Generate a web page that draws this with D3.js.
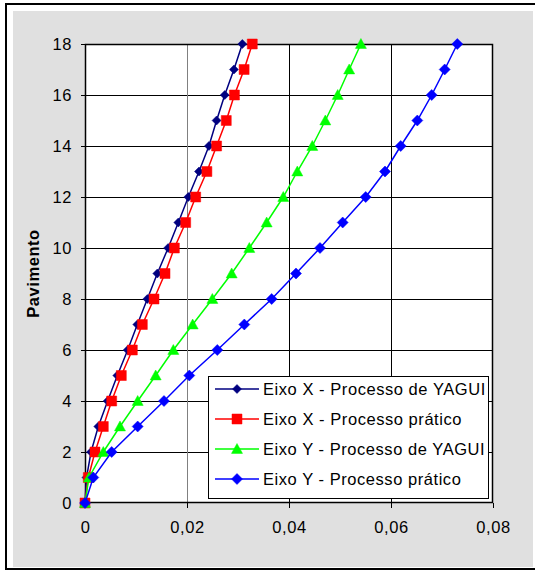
<!DOCTYPE html>
<html><head><meta charset="utf-8">
<script src="https://cdn.jsdelivr.net/npm/d3@7"></script>
<style>body{margin:0;background:#fff}svg{display:block;font-family:"Liberation Sans",Arial,sans-serif}</style>
</head><body><svg id="c" width="535" height="572"></svg>
<script>
const floors = [0,1,2,3,4,5,6,7,8,9,10,11,12,13,14,15,16,17,18];
const xYagui = [0,0.0003,0.00118,0.00261,0.00444,0.00634,0.00837,0.01026,0.01222,0.01418,0.0163,0.0183,0.02026,0.02235,0.0243,0.0258,0.0274,0.0292,0.03085];
const xPratico = [0,0.00065,0.00196,0.00359,0.00523,0.00712,0.00928,0.01124,0.01353,0.01569,0.01752,0.01974,0.0217,0.0239,0.0258,0.0277,0.0293,0.0312,0.0328];
const yYagui = [0,0.00078,0.00359,0.00686,0.01033,0.01386,0.01732,0.02111,0.02497,0.02876,0.03222,0.03562,0.03888,0.04163,0.04457,0.04712,0.04955,0.0518,0.0541];
const yPratico = [0,0.00163,0.00523,0.01033,0.01549,0.02045,0.02594,0.03124,0.0366,0.04137,0.04608,0.05053,0.05504,0.05882,0.0619,0.06516,0.06798,0.07053,0.0730];
const seriesNames = ["Eixo X - Processo de YAGUI","Eixo X - Processo prático","Eixo Y - Processo de YAGUI","Eixo Y - Processo prático"];
const xTicks = [0,0.02,0.04,0.06,0.08];
const yTicks = [0,2,4,6,8,10,12,14,16,18];
const yLabel = "Pavimento";

const FS = "16.5px", LS = "0.55px";
const svg = d3.select("#c");
svg.append("rect").attr("x",6).attr("y",4).attr("width",545).attr("height",565).attr("fill","#fff").attr("stroke","#000").attr("stroke-width",2);
svg.append("rect").attr("x",13).attr("y",11).attr("width",520).attr("height",556).attr("fill","#e0e0e0");

const L=85,R=493,T=44,B=503;
const x = d3.scaleLinear().domain([0,0.08]).range([L,R]);
const y = d3.scaleLinear().domain([0,18]).range([B,T]);

svg.append("rect").attr("x",L).attr("y",T).attr("width",R-L).attr("height",B-T).attr("fill","#fff");

// gridlines
svg.append("g").selectAll("line").data(yTicks.filter(d=>d>0&&d<18)).join("line")
  .attr("x1",L).attr("x2",R).attr("y1",d=>Math.round(y(d))+0.5).attr("y2",d=>Math.round(y(d))+0.5)
  .attr("stroke","#000").attr("stroke-width",1);
svg.append("g").selectAll("line").data(xTicks.filter(d=>d>0&&d<0.08)).join("line")
  .attr("y1",T).attr("y2",B).attr("x1",d=>Math.round(x(d))+0.5).attr("x2",d=>Math.round(x(d))+0.5)
  .attr("stroke",(d,i)=>i===0?"#808080":"#000").attr("stroke-width",1);

// axes
const fmt = d3.format(".2f");
const xAxis = d3.axisBottom(x).tickValues(xTicks).tickSize(5).tickPadding(13)
  .tickFormat(d=> d===0 ? "0" : fmt(d).replace(".",","));
const gx = svg.append("g").attr("transform",`translate(0,${B})`).call(xAxis);
gx.select(".domain").remove();
gx.selectAll("line").attr("stroke","#000");
gx.selectAll("text").attr("font-size",FS).attr("letter-spacing",LS).attr("fill","#000").attr("font-family","Liberation Sans, Arial, sans-serif");

const yAxis = d3.axisLeft(y).tickValues(yTicks).tickSize(4).tickPadding(9).tickFormat(d3.format("d"));
const gy = svg.append("g").attr("transform",`translate(${L},0)`).call(yAxis);
gy.select(".domain").remove();
gy.selectAll("line").attr("stroke","#000");
gy.selectAll("text").attr("font-size",FS).attr("letter-spacing",LS).attr("fill","#000").attr("font-family","Liberation Sans, Arial, sans-serif");

svg.append("rect").attr("x",L+0.5).attr("y",T+0.5).attr("width",R-L-1).attr("height",B-T-1).attr("fill","none").attr("stroke","#000").attr("stroke-width",1.5);

svg.append("text").attr("transform",`translate(39,${(T+B)/2}) rotate(-90)`).attr("text-anchor","middle")
  .attr("font-size",FS).attr("letter-spacing",LS).attr("font-weight","bold").text(yLabel);

// series
const colors = ["#000080","#ff0000","#00ff00","#0000ff"];
const data = [xYagui,xPratico,yYagui,yPratico];

function marker(g, k, cx, cy){
  let path;
  if(k===0 || k===3){
    const h = k===0?4.5:5.5;
    path = `M${cx},${cy-h}L${cx+h},${cy}L${cx},${cy+h}L${cx-h},${cy}Z`;
  } else if(k===1){
    const h=5;
    path = `M${cx-h},${cy-h}h${2*h}v${2*h}h${-2*h}Z`;
  } else {
    const h=5.5;
    path = `M${cx},${cy-h}L${cx+h},${cy+h*0.8}L${cx-h},${cy+h*0.8}Z`;
  }
  g.append("path").attr("d",path).attr("fill",colors[k]).attr("stroke",colors[k]).attr("stroke-width",0.5);
}

const line = d3.line().x(d=>x(d[0])).y(d=>y(d[1]));
data.forEach((vals,k)=>{
  const g = svg.append("g");
  const pts = vals.map((v,i)=>[v,floors[i]]);
  g.append("path").attr("d",line(pts)).attr("fill","none").attr("stroke",colors[k]).attr("stroke-width",1.5);
  pts.forEach(p=>marker(g,k,x(p[0]),y(p[1])));
});

// legend
const lg = svg.append("g");
lg.append("rect").attr("x",208.5).attr("y",376.5).attr("width",280).attr("height",122).attr("fill","#fff").attr("stroke","#000").attr("stroke-width",1);
const ly = [389,419,449,479];
seriesNames.forEach((n,k)=>{
  lg.append("line").attr("x1",215).attr("x2",259).attr("y1",ly[k]).attr("y2",ly[k]).attr("stroke",colors[k]).attr("stroke-width",1.5);
  marker(lg,k,237,ly[k]);
  lg.append("text").attr("x",263).attr("y",ly[k]).attr("dy","0.35em").attr("font-size",FS).attr("letter-spacing",LS).attr("fill","#000").text(n);
});
</script></body></html>
